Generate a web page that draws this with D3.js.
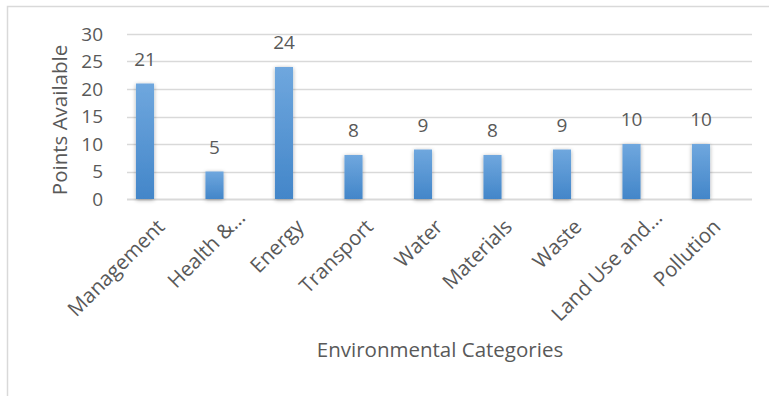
<!DOCTYPE html>
<html>
<head>
<meta charset="utf-8">
<script src="https://cdn.jsdelivr.net/npm/d3@7"></script>
<style>
  html, body { margin: 0; padding: 0; background: #fff; }
  svg { display: block; }
  text { font-family: "Open Sans", Lato, sans-serif; fill: #595959; }
</style>
</head>
<body>
<svg id="chart" width="769" height="396"></svg>
<script>
// Points available per environmental category
const categories = ["Management", "Health &…", "Energy", "Transport", "Water", "Materials", "Waste", "Land Use and…", "Pollution"];
const points = [21, 5, 24, 8, 9, 8, 9, 10, 10];
const yTicks = [0, 5, 10, 15, 20, 25, 30];
const yTitle = "Points Available";
const xTitle = "Environmental Categories";

const FONT = "'Open Sans', Lato, sans-serif";
const NUM_FS = 19;   // tick and value labels
const WORD_FS = 20.5; // category labels and titles

const svg = d3.select("#chart");

// outer chart frame
svg.append("rect")
  .attr("x", 7.5).attr("y", 6.5)
  .attr("width", 800).attr("height", 420)
  .attr("fill", "none").attr("stroke", "#d9d9d9").attr("stroke-width", 1.5);

const plotLeft = 127, plotRight = 752;
const y = d3.scaleLinear().domain([0, 30]).range([199, 34]);
const x = d3.scaleBand().domain(categories).range([110.25, 735.75]).paddingInner(0.74).paddingOuter(0.37);

const defs = svg.append("defs");
const grad = defs.append("linearGradient").attr("id", "barFill")
  .attr("x1", 0).attr("y1", 0).attr("x2", 0).attr("y2", 1);
grad.append("stop").attr("offset", "0%").attr("stop-color", "#6fa7de");
grad.append("stop").attr("offset", "100%").attr("stop-color", "#4386c9");

const shadow = defs.append("filter").attr("id", "barShadow")
  .attr("x", "-60%").attr("y", "-20%").attr("width", "220%").attr("height", "140%");
shadow.append("feGaussianBlur").attr("in", "SourceAlpha").attr("stdDeviation", 2.2).attr("result", "blur");
shadow.append("feOffset").attr("in", "blur").attr("dx", 0).attr("dy", 1).attr("result", "off");
shadow.append("feComponentTransfer").attr("in", "off").attr("result", "soft")
  .append("feFuncA").attr("type", "linear").attr("slope", 0.35);
const merge = shadow.append("feMerge");
merge.append("feMergeNode").attr("in", "soft");
merge.append("feMergeNode").attr("in", "SourceGraphic");

// horizontal gridlines
svg.append("g").selectAll("line").data(yTicks).join("line")
  .attr("x1", plotLeft).attr("x2", plotRight)
  .attr("y1", d => Math.round(y(d)) + 0.5).attr("y2", d => Math.round(y(d)) + 0.5)
  .attr("stroke", "#d9d9d9").attr("stroke-width", d => d === 0 ? 2 : 1.5);

// y axis tick labels
const yAxis = d3.axisLeft(y).tickValues(yTicks).tickSize(0).tickPadding(0);
const yg = svg.append("g").attr("transform", "translate(103,0)").call(yAxis);
yg.select(".domain").remove();
yg.selectAll("text").attr("font-size", NUM_FS).attr("fill", "#595959")
  .attr("font-family", FONT);

// bars
svg.append("g").selectAll("rect").data(points).join("rect")
  .attr("x", (d, i) => x(categories[i]))
  .attr("width", x.bandwidth())
  .attr("y", d => y(d))
  .attr("height", d => y(0) - y(d))
  .attr("fill", "url(#barFill)")
  .attr("filter", "url(#barShadow)");

// value labels
svg.append("g").selectAll("text").data(points).join("text")
  .attr("x", (d, i) => x(categories[i]) + x.bandwidth() / 2)
  .attr("y", d => y(d) - 18)
  .attr("text-anchor", "middle")
  .attr("font-size", NUM_FS)
  .text(d => d);

// category labels, rotated; truncated names sit a little further along the slant
const xAxis = d3.axisBottom(x).tickSize(0).tickPadding(0);
const xg = svg.append("g").attr("transform", `translate(0,${y(0)})`).call(xAxis);
xg.select(".domain").remove();
xg.selectAll("text")
  .attr("font-size", WORD_FS).attr("fill", "#595959")
  .attr("font-family", FONT)
  .attr("text-anchor", "end")
  .attr("dy", null)
  .attr("transform", d => d.endsWith("…") ? "translate(32,20) rotate(-45)" : "translate(21,29) rotate(-45)");

// axis titles
svg.append("text")
  .attr("transform", "translate(67,120) rotate(-90)")
  .attr("text-anchor", "middle")
  .attr("font-size", WORD_FS)
  .text(yTitle);

svg.append("text")
  .attr("x", 440).attr("y", 357)
  .attr("text-anchor", "middle")
  .attr("font-size", WORD_FS)
  .text(xTitle);
</script>
</body>
</html>
